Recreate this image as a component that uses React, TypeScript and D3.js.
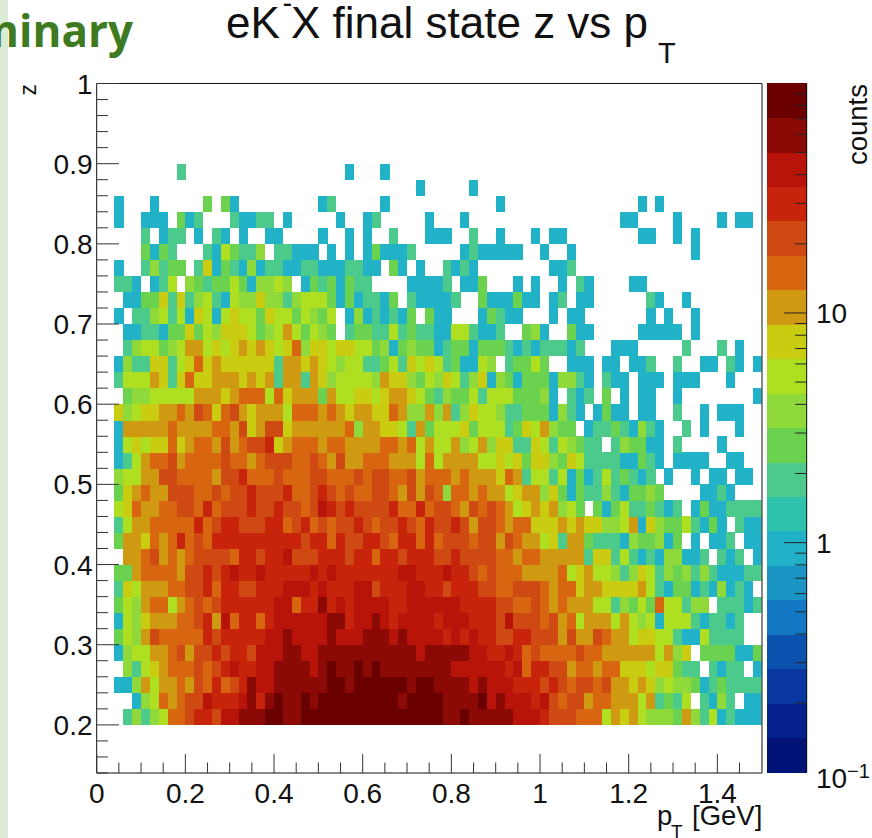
import React from "react";
import * as d3 from "d3";

// counts per bin; each row lists pT bins from 0 in 0.02 GeV steps, trailing empty bins omitted
const z020 = [0,0,0,2,4, 2,4,5,14,14, 20,30,30,20,40, 40,60,60,60,80, 80,60,60,80,80, 80,80,80,80,80, 80,80,80,80,80, 80,80,80,80,60, 60,80,60,60,60, 60,60,40,40,40, 30,20,20,20,14, 14,14,5,10,7, 10,5,4,4,4, 3,10,4,2,5, 1,2,1,1,1];
const z022 = [0,0,0,0,1, 4,5,14,10,14, 20,20,40,30,30, 30,40,60,30,60, 80,60,60,80,60, 80,80,80,80,80, 80,80,80,80,60, 80,80,80,80,60, 60,60,60,80,40, 60,40,40,40,30, 40,20,14,20,20, 10,14,14,10,10, 10,5,10,2,3, 2,5,0,2,1, 4,2,0,1,1];
const z024 = [0,0,1,1,4, 10,5,10,10,14, 10,20,14,30,14, 20,30,60,40,40, 60,60,60,60,60, 60,80,80,60,80, 80,80,80,80,80, 60,80,80,60,60, 60,60,40,60,40, 40,40,30,30,30, 20,30,20,14,20, 20,14,20,10,10, 7,10,7,4,5, 4,4,3,1,2, 3,2,2,2,2];
const z026 = [0,0,0,4,2, 5,7,10,14,14, 14,20,14,20,30, 40,30,30,40,40, 60,60,60,60,40, 60,80,60,60,80, 60,80,60,60,60, 60,60,60,60,60, 40,40,40,40,40, 40,30,40,14,30, 30,20,20,10,14, 14,10,14,14,7, 7,7,5,7,7, 3,2,2,0,2, 1,2,2,0,1];
const z028 = [0,0,1,4,5, 5,10,10,14,20, 10,20,20,30,20, 30,30,20,40,40, 40,60,60,40,40, 60,60,60,60,60, 60,60,60,60,60, 60,40,60,60,60, 60,60,40,40,30, 30,40,30,14,20, 14,14,14,14,20, 14,14,10,10,10, 10,10,10,5,10, 4,7,0,3,3, 3,3,1,1,3];
const z030 = [0,0,3,5,4, 10,20,14,14,14, 14,14,30,20,30, 30,30,30,30,40, 40,60,40,40,40, 40,60,40,40,40, 60,60,60,40,60, 40,40,40,40,30, 40,30,40,30,30, 20,20,30,30,20, 20,20,10,20,10, 10,20,14,10,10, 5,7,7,5,5, 2,1,1,5,2, 2,2,2];
const z032 = [0,0,1,5,4, 7,10,10,10,14, 14,20,30,10,40, 14,30,30,14,30, 40,40,40,40,40, 40,60,60,30,40, 40,60,40,30,40, 40,40,40,30,40, 40,40,30,30,30, 20,40,20,20,20, 14,20,10,14,5, 10,10,10,5,10, 5,4,5,1,5, 5,5,2,1,2, 2,1,2];
const z034 = [0,0,3,5,4, 10,14,14,5,10, 14,20,14,20,30, 30,30,30,30,30, 40,40,14,30,30, 60,30,40,30,40, 40,40,40,30,30, 40,40,40,40,40, 40,30,30,30,30, 20,20,14,14,20, 14,10,14,10,10, 10,5,5,2,4, 3,5,3,14,5, 5,2,4,4,0, 2,2,2,1,2];
const z036 = [0,0,2,7,5, 10,10,10,14,14, 20,20,30,14,30, 30,20,20,30,30, 30,40,40,40,30, 40,30,30,30,40, 40,20,30,30,30, 40,40,30,30,20, 30,30,30,20,20, 14,14,20,20,20, 14,10,14,14,7, 10,10,7,7,7, 7,10,5,2,1, 3,3,1,2,1, 4,1,2,1];
const z038 = [0,0,3,3,10, 14,14,14,14,10, 20,20,30,20,30, 40,30,30,40,30, 30,30,30,30,40, 30,40,30,30,30, 30,30,30,30,40, 40,30,30,30,40, 30,30,20,14,20, 14,14,14,10,10, 10,10,14,5,7, 10,5,5,4,2, 4,7,5,2,4, 3,4,2,4,2, 1,1,1,2,2];
const z040 = [0,0,0,10,10, 14,20,10,14,10, 14,20,20,20,20, 14,30,30,20,30, 30,40,20,20,20, 30,30,30,20,30, 30,14,30,30,20, 30,30,30,20,20, 30,20,20,20,20, 14,14,10,14,14, 10,10,10,10,10, 2,7,7,2,5, 2,1,2,1,4, 4,1,1,2,0, 2,1,2,0,1];
const z042 = [0,0,3,10,10, 7,14,10,14,30, 14,20,14,30,30, 30,30,30,30,30, 30,30,30,20,30, 30,14,30,20,20, 30,30,20,14,30, 30,14,30,14,20, 20,20,14,20,20, 10,20,14,10,10, 5,7,2,10,10, 3,2,2,2,1, 4,3,3,4,1, 3,0,1,0,1, 1,2,0,1,1];
const z044 = [0,0,2,5,10, 10,14,14,14,14, 14,30,14,20,30, 30,20,20,20,30, 30,14,20,30,14, 20,14,20,20,30, 20,14,20,20,30, 20,14,30,20,20, 30,20,10,20,20, 14,10,14,14,7, 7,7,10,7,10, 7,7,4,4,5, 10,1,7,4,3, 3,5,2,1,3, 1,0,2,1,1];
const z046 = [0,0,5,7,14, 10,10,14,14,20, 20,14,30,14,20, 20,20,30,20,20, 30,20,20,14,20, 40,30,20,30,20, 20,20,20,30,14, 14,30,14,20,20, 14,10,20,14,20, 14,10,5,7,10, 7,10,4,5,3, 0,3,1,3,5, 2,2,3,2,1, 2,0,1,3,1, 1,2,2,2,2];
const z048 = [0,0,3,7,10, 14,10,10,20,20, 20,14,14,20,14, 20,20,30,20,20, 20,30,14,14,20, 30,20,14,20,14, 14,20,20,14,10, 20,10,20,14,4, 14,14,10,14,10, 10,5,7,10,10, 4,7,3,1,3, 2,2,4,2,1, 3,3,4,3,0, 0,0,0,1,1, 2,1];
const z050 = [0,0,4,5,5, 10,10,20,20,14, 14,14,14,10,20, 20,30,14,14,14, 20,14,14,14,20, 20,14,14,14,20, 14,20,20,14,14, 20,10,14,14,14, 10,14,10,10,10, 7,14,10,2,5, 5,2,5,1,3, 1,2,5,2,3, 2,1,2,0,1, 0,0,1,0,1, 1,0,1,1];
const z052 = [0,0,1,2,5, 10,14,14,20,10, 14,14,14,14,20, 14,14,10,14,20, 20,20,14,14,20, 14,10,20,10,10, 14,14,14,10,10, 10,5,14,5,10, 10,10,10,5,5, 7,5,7,3,7, 7,4,3,7,5, 2,2,2,2,1, 1,3,2,1,0, 1,1,1,1,0, 0,1,1];
const z054 = [0,0,1,5,7, 5,7,7,14,7, 10,14,14,10,20, 10,14,20,20,30, 7,10,14,14,14, 10,14,14,10,10, 10,10,14,14,10, 14,5,10,5,5, 10,4,5,10,4, 7,7,2,2,7, 5,2,5,4,3, 2,2,0,2,4, 3,3,1,1,0, 2,0,0,0,0, 1];
const z056 = [0,0,1,10,10, 10,10,10,14,10, 10,10,10,14,14, 10,20,7,10,20, 20,7,10,10,10, 10,10,10,14,4, 10,10,7,7,5, 2,10,3,5,5, 5,7,3,5,5, 5,2,3,7,5, 10,4,3,3,0, 1,2,2,3,2, 1,4,2,1,0, 0,2,0,1,0, 0,0,1];
const z058 = [0,0,7,4,5, 7,7,10,10,14, 10,20,14,7,14, 20,10,7,10,10, 10,5,14,14,14, 10,14,10,7,10, 10,7,7,14,10, 4,4,10,4,10, 2,4,7,5,5, 4,2,2,3,3, 3,1,4,2,1, 0,1,3,1,1, 0,1,1,0,0, 2,0,0,1,0, 1,1,1];
const z060 = [0,0,0,3,4, 4,5,5,5,5, 5,10,10,10,7, 10,14,14,14,5, 14,7,10,10,10, 3,10,5,5,7, 7,5,7,10,10, 7,5,3,2,4, 3,3,5,2,5, 5,5,3,3,3, 4,1,0,2,1, 2,0,3,0,1, 0,1,1,0,0, 1,0,0,0,0, 0,0,0,0,1];
const z062 = [0,0,2,5,5, 5,10,7,2,7, 14,7,7,10,10, 10,7,10,7,10, 2,10,10,2,10, 7,4,5,5,5, 5,4,10,7,7, 4,3,5,4,7, 5,2,4,7,1, 4,3,1,3,3, 3,1,4,4,2, 1,0,2,1,1, 0,1,1,1,0, 1,1,1,0,0, 0,1];
const z064 = [0,0,1,4,2, 2,7,7,2,5, 7,14,7,10,7, 7,7,7,7,7, 2,10,10,7,10, 7,5,4,5,5, 2,2,3,5,2, 7,5,7,5,2, 3,1,1,5,4, 0,2,3,3,5, 3,0,0,1,1, 1,0,1,1,0, 1,1,2,0,0, 2,0,0,1,1, 0,2,1,0,1];
const z066 = [0,0,0,2,4, 5,5,3,4,5, 10,10,5,7,5, 7,10,7,10,7, 5,7,14,4,7, 7,5,7,7,5, 5,3,4,1,3, 4,3,3,1,2, 3,3,1,3,3, 3,2,1,2,1, 2,2,2,1,2, 0,0,0,1,1, 1,0,0,0,0, 0,2,0,0,0, 2,0,1];
const z068 = [0,0,0,1,1, 2,2,1,3,3, 7,3,5,4,7, 7,7,5,3,4, 5,10,5,3,5, 4,3,0,2,3, 3,2,2,5,2, 3,2,2,1,1, 5,5,2,1,1, 2,0,0,3,4, 1,0,0,3,1, 1,0,0,0,0, 0,1,1,1,1, 1,0,1];
const z070 = [0,0,1,0,2, 2,4,5,2,5, 1,7,5,1,5, 7,5,5,3,7, 5,5,3,5,4, 3,5,0,1,4, 1,2,1,2,1, 3,0,3,1,1, 0,0,0,1,3, 2,1,1,0,0, 0,1,0,1,1, 0,0,0,0,0, 0,0,1,0,1, 0,0,1];
const z072 = [0,0,0,1,1, 3,3,7,2,7, 2,4,5,2,1, 5,4,4,7,4, 4,2,4,5,5, 5,3,1,3,1, 2,2,1,3,0, 2,1,1,1,1, 2,0,0,3,1, 1,1,3,1,1, 0,1,2,0,1, 1,0,0,0,0, 0,0,2,1,0, 0,1];
const z074 = [0,0,2,2,1, 0,1,2,5,0, 4,3,2,3,3, 5,3,1,4,4, 5,4,0,1,3, 2,3,1,3,2, 2,0,0,0,0, 1,1,1,1,2, 0,1,1,3,0, 0,0,1,0,1, 0,0,1,0,2, 1,0,0,0,0, 1,1];
const z076 = [0,0,1,0,0, 2,4,2,3,3, 0,2,7,1,3, 2,1,4,1,2, 2,1,1,2,2, 1,1,1,2,2, 1,1,0,3,1, 0,1,0,0,2, 1,2,1,0,0, 0,0,0,0,0, 0,1,1,2];
const z078 = [0,0,0,0,0, 3,1,3,2,0, 0,0,2,1,5, 3,2,2,4,0, 2,2,1,1,1, 0,1,0,1,0, 1,3,1,1,1, 2,0,0,0,0, 0,1,2,1,1, 1,1,1,0,0, 1,0,0,1,0, 0,0,0,0,0, 0,0,0,0,0, 0,0,1];
const z080 = [0,0,0,0,0, 2,0,1,2,2, 0,1,0,2,1, 0,1,0,0,1, 1,0,0,0,0, 1,0,0,1,0, 1,0,0,2,0, 0,0,1,1,1, 0,0,2,0,0, 1,0,0,0,1, 0,1,1,0,0, 0,0,0,0,0, 0,1,1,0,0, 1,0,1];
const z082 = [0,0,1,0,0, 1,1,1,0,3, 1,2,0,0,0, 2,1,1,2,2, 0,1,0,0,0, 0,0,1,0,0, 1,2,0,0,0, 0,0,1,0,0, 0,1,0,0,0, 0,0,0,0,0, 0,0,0,0,0, 0,0,0,0,1, 1,0,0,0,0, 1,0,0,0,0, 1,0,1,1];
const z084 = [0,0,1,0,0, 0,1,0,0,0, 0,0,3,0,3, 1,0,0,0,0, 0,0,0,0,0, 1,2,0,0,0, 0,0,1,0,0, 0,0,0,0,0, 0,0,0,0,0, 1,0,0,0,0, 0,0,0,0,0, 0,0,0,0,0, 0,1,0,1];
const z086 = [0,0,0,0,0, 0,0,0,0,0, 0,0,0,0,0, 0,0,0,0,0, 0,0,0,0,0, 0,0,0,0,0, 0,0,0,0,0, 0,1,0,0,0, 0,0,1];
const z088 = [0,0,0,0,0, 0,0,0,0,2, 0,0,0,0,0, 0,0,0,0,0, 0,0,0,0,0, 0,0,0,1,0, 0,0,1];

const countRows = [z020,z022,z024,z026,z028,z030,z032,z034,z036,z038,z040,z042,z044,z046,z048,z050,z052,z054,z056,z058,z060,z062,z064,z066,z068,z070,z072,z074,z076,z078,z080,z082,z084,z086,z088];
const binWidth = 0.02;
const zStart = 0.2;

const palette = ["#001276","#03208c","#0a379f","#0b52ae","#1278c4","#1a95c4","#22b2c8","#30c3ab","#4cca8c","#6bd24f","#8fd93a","#aee021","#c9cc10","#cf9a12","#d8650f","#cf4a12","#c8240b","#b8140a","#8c0a05","#6b0000"];

const xTicksMajor = [0,0.2,0.4,0.6,0.8,1,1.2,1.4];
const xLabels = ["0","0.2","0.4","0.6","0.8","1","1.2","1.4"];
const zTicksMajor = [0.2,0.3,0.4,0.5,0.6,0.7,0.8,0.9,1];
const zLabels = ["0.2","0.3","0.4","0.5","0.6","0.7","0.8","0.9","1"];
const barMinor = [0.2,0.3,0.4,0.5,0.6,0.7,0.8,0.9,2,3,4,5,6,7,8,9,20,30,40,50,60,70,80,90];
const barMajor = [1,10];

const F = '"Liberation Sans", Arial, sans-serif';
const x = d3.scaleLinear().domain([0, 1.5]).range([96.7, 761.7]);
const y = d3.scaleLinear().domain([0.14, 1]).range([773, 83.5]);
const logY = d3.scaleLog().domain([0.1, 100]).range([772.3, 83.3]);
const bandColor = d3.scaleQuantize<string>().domain([-1, 2]).range(palette);
const BAR_L = 766.7, BAR_R = 806.7;
const TICK_FONT = 28;

export default function App() {
  const xMinor = d3.range(0, 30).map(i => i * 0.05).filter(v => Math.round(v * 100) % 20 !== 0);
  const zMinor = d3.range(0, 44).map(i => 0.14 + i * 0.02).filter(v => Math.round(v * 100) % 10 !== 0);
  const logEdges = d3.range(0, 21).map(i => -1 + i * 0.15);
  return (
    <svg width={872} height={838} viewBox="0 0 872 838" style={{ position: "absolute", left: 0, top: 0, background: "#fff" }} fontFamily={F}>
      <rect x={0} y={0} width={8} height={838} fill="#dcebd6" />
      <text x={133} y={47} textAnchor="end" fontFamily='"Open Sans", "Noto Sans", sans-serif' fontWeight={700} fontSize={44} fill="#3d7a20">Preliminary</text>

      <g shapeRendering="crispEdges">
        {countRows.map((row, r) => row.map((v, c) => v > 0 ? (
          <rect key={`${r}-${c}`}
            x={x(c * binWidth)} y={y(zStart + (r + 1) * binWidth)}
            width={x((c + 1) * binWidth) - x(c * binWidth) + 0.3}
            height={y(zStart + r * binWidth) - y(zStart + (r + 1) * binWidth) + 0.3}
            fill={bandColor(Math.log10(v))} />
        ) : null))}
      </g>

      {/* frame */}
      <line x1={96.7} x2={762} y1={83.5} y2={83.5} stroke="#111" />
      <line x1={96.7} x2={96.7} y1={83.5} y2={773} stroke="#111" />
      <line x1={96.7} x2={762} y1={773} y2={773} stroke="#111" />
      <line x1={762} x2={762} y1={83.5} y2={773} stroke="#555" strokeWidth={1.4} />

      {zMinor.map(v => <line key={v} x1={96.7} x2={108} y1={y(v)} y2={y(v)} stroke="#333" />)}
      {zTicksMajor.map((v, i) => (
        <g key={v}>
          <line x1={96.7} x2={119} y1={y(v)} y2={y(v)} stroke="#333" />
          <text x={92.5} y={y(v) + 10} textAnchor="end" fontSize={TICK_FONT} fill="#111">{zLabels[i]}</text>
        </g>
      ))}
      {xMinor.map(v => <line key={v} x1={x(v)} x2={x(v)} y1={773} y2={762.5} stroke="#333" />)}
      {xTicksMajor.map((v, i) => (
        <g key={v}>
          <line x1={x(v)} x2={x(v)} y1={773} y2={754} stroke="#333" />
          <text x={x(v)} y={802.5} textAnchor="middle" fontSize={TICK_FONT} fill="#111">{xLabels[i]}</text>
        </g>
      ))}

      {/* colour bar */}
      <g shapeRendering="crispEdges">
        {palette.map((c, i) => {
          const y1 = logY(Math.pow(10, logEdges[i + 1]));
          const y0 = logY(Math.pow(10, logEdges[i]));
          return <rect key={c} x={BAR_L} y={y1} width={BAR_R - BAR_L} height={y0 - y1 + 0.3} fill={c} />;
        })}
      </g>
      <line x1={BAR_R} x2={BAR_R} y1={83.3} y2={772.3} stroke="#111" />
      {barMinor.map(v => <line key={v} x1={BAR_R} x2={BAR_R - 11.5} y1={logY(v)} y2={logY(v)} stroke="#222" />)}
      {barMajor.map(v => <line key={v} x1={BAR_R} x2={BAR_R - 22.5} y1={logY(v)} y2={logY(v)} stroke="#222" />)}
      <text x={816} y={logY(10) + 10} fontSize={TICK_FONT} fill="#111">10</text>
      <text x={816} y={logY(1) + 10} fontSize={TICK_FONT} fill="#111">1</text>
      <text x={816} y={788} fontSize={TICK_FONT} fill="#111">10</text>
      <text x={847} y={778} fontSize={20} fill="#111">−1</text>

      {/* titles */}
      <text x={226} y={38} fontSize={44} fill="#111">eK</text>
      <text x={282.5} y={13} fontSize={29} fill="#111">-</text>
      <text x={291} y={38} fontSize={44} fill="#111">X final state z vs p</text>
      <text x={658} y={63} fontSize={29} fill="#111">T</text>

      <text transform="translate(36,84) rotate(-90)" textAnchor="end" fontSize={23} fill="#111">z</text>
      <text transform="translate(867,84) rotate(-90)" textAnchor="end" fontSize={27.5} fill="#111">counts</text>

      <text x={657} y={825} fontSize={27.5} fill="#111">p</text>
      <text x={671} y={838} fontSize={19} fill="#111">T</text>
      <text x={692} y={825} fontSize={27.5} fill="#111">[GeV]</text>
    </svg>
  );
}
